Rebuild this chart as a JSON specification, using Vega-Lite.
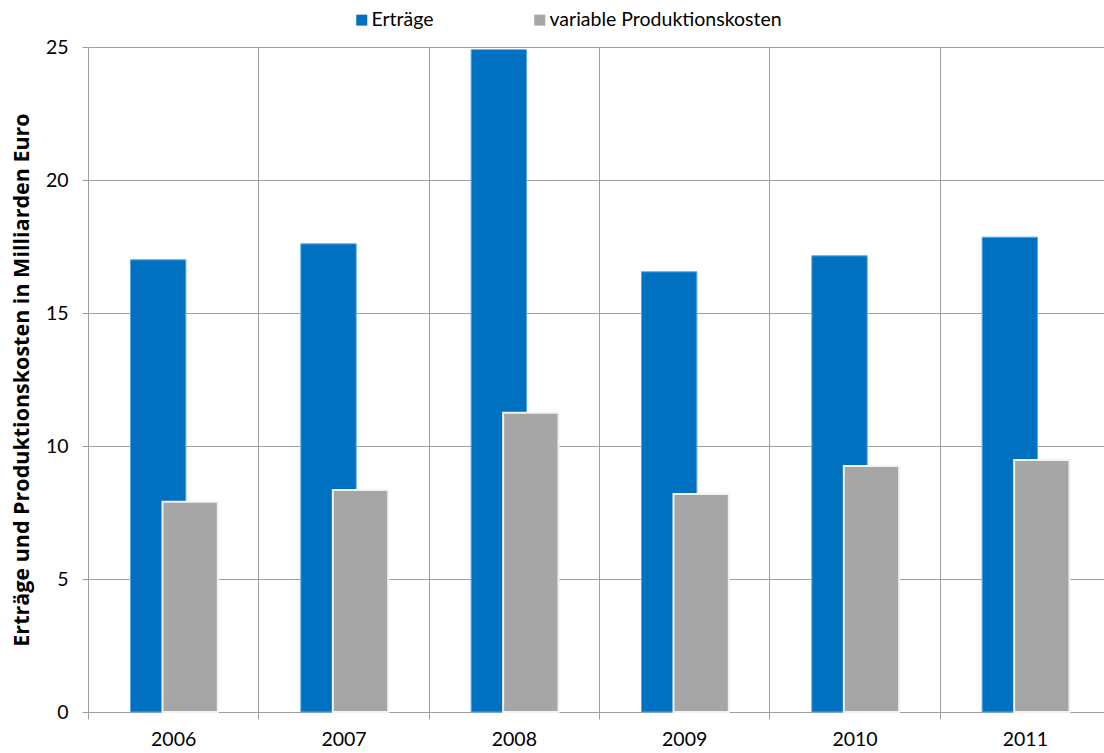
{
  "$schema": "https://vega.github.io/schema/vega-lite/v6.json",
  "autosize": {"type": "none"},
  "padding": {"left": 88, "top": 47, "right": 0, "bottom": 41},
  "width": 1016,
  "height": 665,
  "background": "white",
  "config": {
    "font": "Lato",
    "view": {"stroke": null},
    "axis": {
      "labelFont": "Lato",
      "labelFontSize": 19.5,
      "labelColor": "#000000",
      "gridColor": "#a0a0a0",
      "gridWidth": 1,
      "gridOpacity": 1,
      "tickColor": "#a0a0a0",
      "domainColor": "#a0a0a0"
    }
  },
  "data": {
    "values": [
      {"jahr": "2006", "reihe": "Erträge", "wert": 17.0},
      {"jahr": "2007", "reihe": "Erträge", "wert": 17.6},
      {"jahr": "2008", "reihe": "Erträge", "wert": 24.9},
      {"jahr": "2009", "reihe": "Erträge", "wert": 16.55},
      {"jahr": "2010", "reihe": "Erträge", "wert": 17.15},
      {"jahr": "2011", "reihe": "Erträge", "wert": 17.85},
      {"jahr": "2006", "reihe": "variable Produktionskosten", "wert": 7.9},
      {"jahr": "2007", "reihe": "variable Produktionskosten", "wert": 8.35},
      {"jahr": "2008", "reihe": "variable Produktionskosten", "wert": 11.25},
      {"jahr": "2009", "reihe": "variable Produktionskosten", "wert": 8.2},
      {"jahr": "2010", "reihe": "variable Produktionskosten", "wert": 9.25},
      {"jahr": "2011", "reihe": "variable Produktionskosten", "wert": 9.47}
    ]
  },
  "encoding": {
    "x": {
      "field": "jahr",
      "type": "nominal",
      "scale": {"range": [0, 1022], "paddingInner": 0, "paddingOuter": 0},
      "axis": {
        "title": null,
        "labelAngle": 0,
        "tickBand": "extent",
        "grid": true,
        "tickSize": 7,
        "labelPadding": 11,
        "domain": true
      }
    },
    "y": {
      "field": "wert",
      "type": "quantitative",
      "scale": {"domain": [0, 25], "nice": false},
      "axis": {
        "title": "Erträge und Produktionskosten in Milliarden Euro",
        "titleFont": "Open Sans",
        "titleFontSize": 21.5,
        "titleFontWeight": "bold",
        "titleColor": "#000000",
        "titlePadding": 12,
        "values": [0, 5, 10, 15, 20, 25],
        "grid": true,
        "domain": false,
        "tickSize": 6,
        "labelPadding": 14
      }
    },
    "color": {
      "field": "reihe",
      "type": "nominal",
      "scale": {
        "domain": ["Erträge", "variable Produktionskosten"],
        "range": ["#0070c0", "#a6a6a6"]
      },
      "legend": {
        "title": null,
        "orient": "none",
        "direction": "horizontal",
        "legendX": 264,
        "legendY": -37,
        "padding": 0,
        "symbolType": "square",
        "symbolSize": 121,
        "symbolStrokeWidth": 0,
        "symbolOpacity": 1,
        "labelFont": "Lato",
        "labelFontSize": 19.5,
        "labelLimit": 0,
        "labelColor": "#000000",
        "labelOffset": 0,
        "columnPadding": 96
      }
    }
  },
  "layer": [
    {
      "transform": [{"filter": "datum.reihe === 'Erträge'"}],
      "mark": {
        "type": "bar",
        "width": {"band": 0.325},
        "xOffset": -15,
        "stroke": "#5aa8e6",
        "strokeWidth": 1,
        "opacity": 1
      }
    },
    {
      "transform": [{"filter": "datum.reihe === 'variable Produktionskosten'"}],
      "mark": {
        "type": "bar",
        "width": {"band": 0.325},
        "xOffset": 17,
        "stroke": "#f2f2f2",
        "strokeWidth": 2,
        "opacity": 1
      }
    }
  ]
}
